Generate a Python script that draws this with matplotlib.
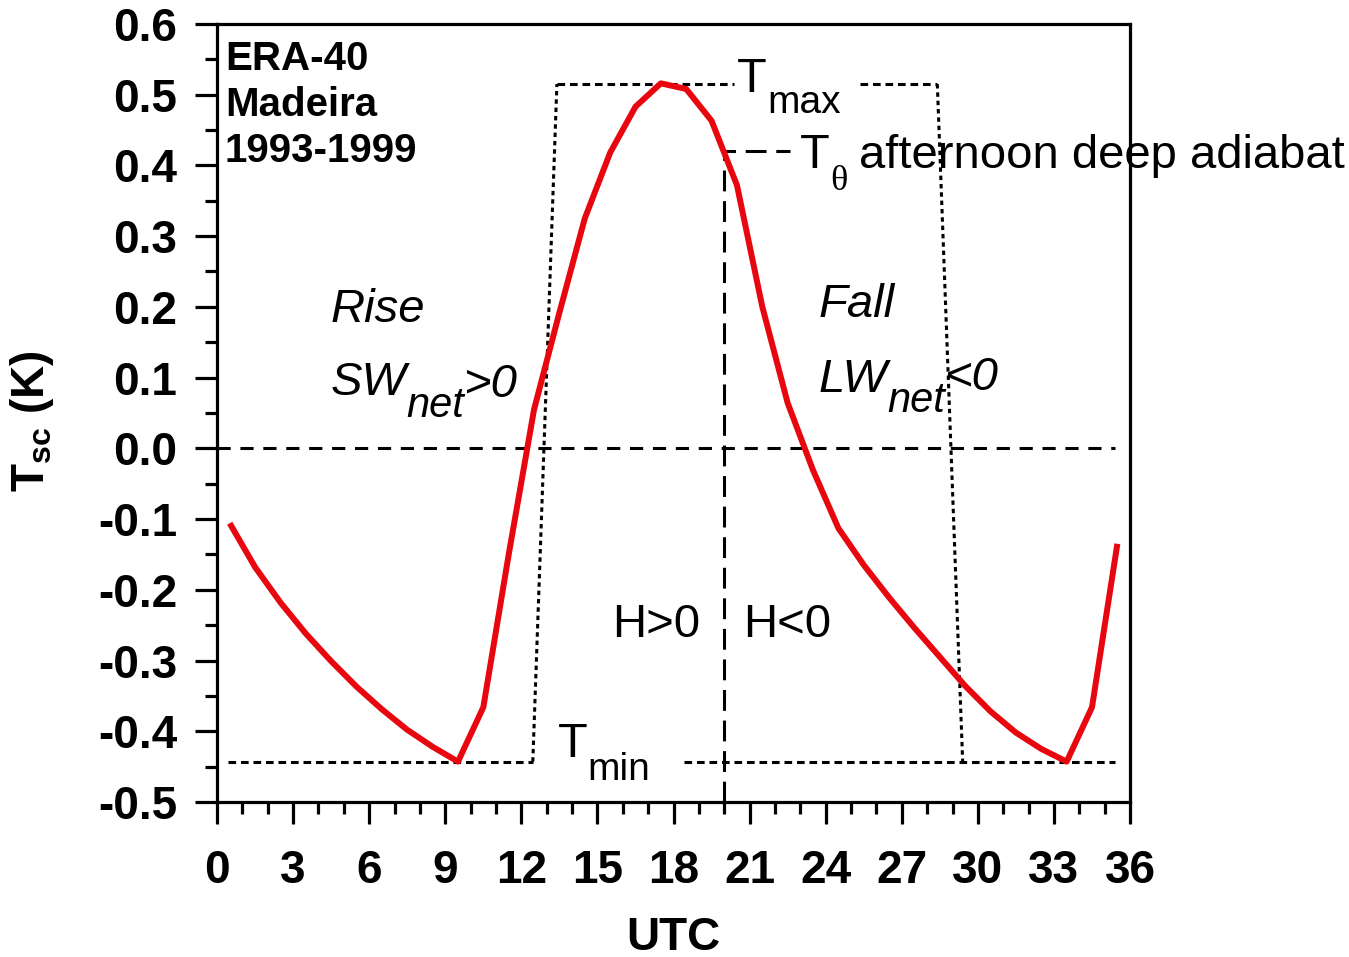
import matplotlib
matplotlib.use('Agg')
import matplotlib.pyplot as plt
from matplotlib.ticker import MultipleLocator, FormatStrFormatter


plt.rcParams['font.family'] = 'Liberation Sans'
plt.rcParams['axes.unicode_minus'] = False
plt.rcParams['lines.scale_dashes'] = False
plt.rcParams['mathtext.fontset'] = 'custom'
plt.rcParams['mathtext.rm'] = 'Liberation Sans'
plt.rcParams['mathtext.it'] = 'Liberation Sans:italic'
plt.rcParams['mathtext.bf'] = 'Liberation Sans:bold'

# diurnal cycle of scaled temperature, hourly (UTC), 36 h shown
HOURS = [0.5, 1.5, 2.5, 3.5, 4.5, 5.5, 6.5, 7.5, 8.5, 9.5, 10.5, 11.5,
         12.5, 13.5, 14.5, 15.5, 16.5, 17.5, 18.5, 19.5, 20.5, 21.5, 22.5, 23.5,
         24.5, 25.5, 26.5, 27.5, 28.5, 29.5, 30.5, 31.5, 32.5, 33.5, 34.5, 35.5]
TSC = [-0.106, -0.168, -0.218, -0.262, -0.301, -0.337, -0.369, -0.398, -0.422, -0.443, -0.366, -0.150,
       0.055, 0.192, 0.325, 0.418, 0.483, 0.516, 0.508, 0.463, 0.372, 0.200, 0.064, -0.031,
       -0.113, -0.165, -0.211, -0.254, -0.295, -0.336, -0.372, -0.402, -0.425, -0.443, -0.366, -0.135]

# idealised trapezoid and reference lines
T_MIN = -0.443
T_MAX = 0.515
T_THETA = 0.42
H_SWITCH = 20.0
RISE_X = (12.45, 13.4)
FALL_X = (28.4, 29.4)
LINE_X = (0.45, 35.4)
TMAX_GAP = (20.4, 25.35)
TMIN_RESTART = 18.4
THETA_END = 22.6

STATION_LINES = ['ERA-40', 'Madeira', '1993-1999']

DESC = 0.212  # descent of the font, fraction of size


def chain_text(ax, x, y, parts, style='normal'):
    # parts: (text, size, baseline rise in pt, extra x gap in pt, family)
    txt, size, rise, gap, fam = parts[0]
    prev = ax.text(x, y, txt, fontsize=size, style=style, va='baseline',
                   family=fam or 'Liberation Sans')
    prev_size, prev_rise = size, rise
    for txt, size, rise, gap, fam in parts[1:]:
        dy = (rise - prev_rise) + DESC * (prev_size - size)
        prev = ax.annotate(txt, xy=(1, 0), xycoords=prev, xytext=(gap, dy),
                           textcoords='offset points', fontsize=size, style=style,
                           va='bottom', ha='left', family=fam or 'Liberation Sans')
        prev_size, prev_rise = size, rise
    return prev


fig = plt.figure(figsize=(13.49, 9.57), dpi=100)
ax = fig.add_axes([0.1609, 0.1620, 0.6768, 0.8130])

dash_kw = dict(color='black', lw=2.2)
ax.plot([0, LINE_X[1]], [0, 0], dashes=(9.5, 7), **dash_kw)
ax.plot([H_SWITCH, H_SWITCH, THETA_END], [-0.5, T_THETA, T_THETA], dashes=(15, 7), **dash_kw)

ax.plot([LINE_X[0], RISE_X[0]], [T_MIN, T_MIN], dashes=(5.5, 3.5), **dash_kw)
ax.plot([TMIN_RESTART, LINE_X[1]], [T_MIN, T_MIN], dashes=(5.5, 3.5), **dash_kw)
ax.plot([RISE_X[1], TMAX_GAP[0]], [T_MAX, T_MAX], dashes=(5.5, 3.5), **dash_kw)
ax.plot([TMAX_GAP[1], FALL_X[0]], [T_MAX, T_MAX], dashes=(5.5, 3.5), **dash_kw)
ax.plot([RISE_X[0], RISE_X[1]], [T_MIN, T_MAX], dashes=(3.2, 2.8), **dash_kw)
ax.plot([FALL_X[0], FALL_X[1]], [T_MAX, T_MIN], dashes=(3.2, 2.8), **dash_kw)

ax.plot(HOURS, TSC, color='#e8060f', lw=4.3, solid_joinstyle='round',
        solid_capstyle='butt', zorder=5)

ax.set_xlim(0, 36)
ax.set_ylim(-0.5, 0.6)
ax.set_xticks(range(0, 37, 3))
ax.xaxis.set_minor_locator(MultipleLocator(1))
ax.yaxis.set_major_locator(MultipleLocator(0.1))
ax.yaxis.set_minor_locator(MultipleLocator(0.05))
ax.yaxis.set_major_formatter(FormatStrFormatter('%.1f'))

for s in ax.spines.values():
    s.set_linewidth(2.3)
ax.tick_params(which='major', length=15.8, width=2.3, labelsize=33)
ax.tick_params(which='minor', length=8.6, width=2.3)
ax.tick_params(axis='x', which='major', pad=18)
ax.tick_params(axis='y', which='major', pad=13)
for lab in ax.get_xticklabels() + ax.get_yticklabels():
    lab.set_fontweight('bold')

ax.set_xlabel('UTC', fontsize=33, fontweight='bold')
ax.xaxis.set_label_coords(0.5, -0.146)
ax.set_ylabel(r'$\mathbf{T_{sc}}$ (K)', fontsize=33, fontweight='bold')
ax.yaxis.set_label_coords(-0.176, 0.49)

# station block
for i, line in enumerate(STATION_LINES):
    ax.text(0.0085, 0.9410 - i * 0.0594, line, transform=ax.transAxes,
            fontsize=29, fontweight='bold', va='baseline')

chain_text(ax, 20.50, 0.504, [('T', 35, 0, 0, None), ('max', 28, -15, 0.5, None)])
chain_text(ax, 23.0, 0.396, [('T', 35, 0, 0, None), ('θ', 26, -16, 0, 'Liberation Serif'),
                             ('afternoon deep adiabat', 34, 0, 8, None)])
chain_text(ax, 13.42, -0.437, [('T', 35, 0, 0, None), ('min', 28, -16.5, 0.5, None)])

ax.text(4.46, 0.178, 'Rise', fontsize=34, style='italic')
chain_text(ax, 4.46, 0.075, [('SW', 34, 0, 0, None), ('net', 30, -16, 0, None),
                             ('>0', 34, -1, 0, None)], style='italic')
ax.text(23.70, 0.186, 'Fall', fontsize=34, style='italic')
chain_text(ax, 23.70, 0.080, [('LW', 34, 0, 0, None), ('net', 30, -15, 0, None),
                              ('<0', 34, 1, 0, None)], style='italic')

ax.text(15.56, -0.267, 'H>0', fontsize=34)
ax.text(20.76, -0.267, 'H<0', fontsize=34)

fig.savefig('out.png', dpi=100)
